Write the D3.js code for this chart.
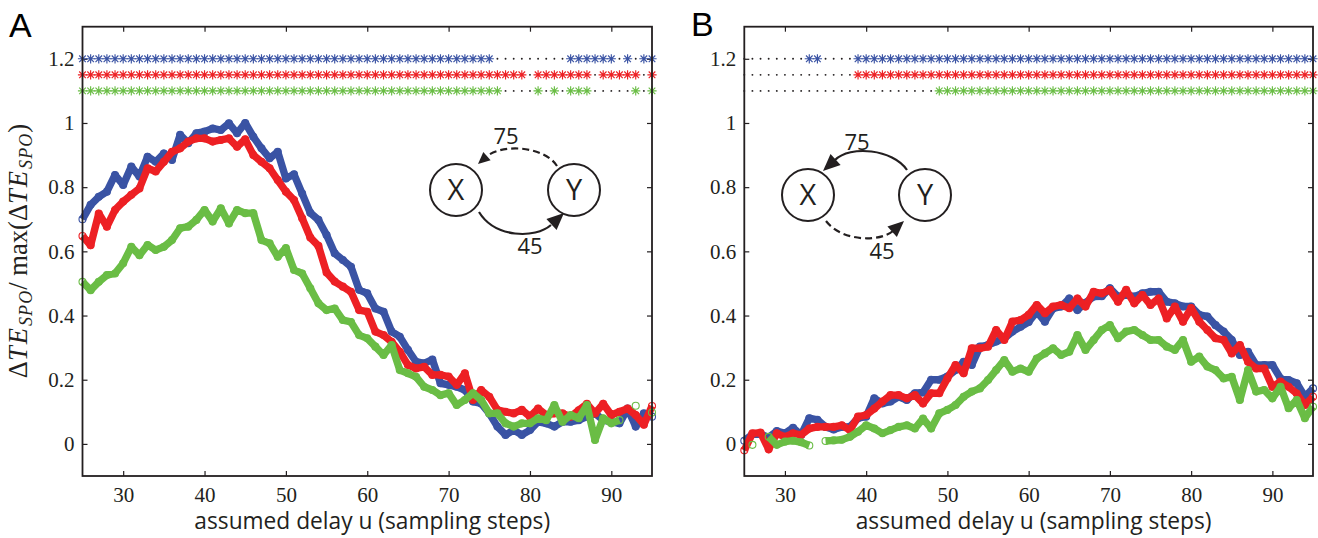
<!DOCTYPE html>
<html>
<head>
<meta charset="utf-8">
<script src="https://cdn.jsdelivr.net/npm/d3@7"></script>
<style>
  body { margin: 0; background: #fff; }
  svg { display: block; }
</style>
</head>
<body>
<svg id="fig" width="1318" height="538"></svg>
<script>
// Assumed delays u (sampling steps)
const delays = d3.range(25, 96);
const xTicks = [30, 40, 50, 60, 70, 80, 90];
const yTicks = [0, 0.2, 0.4, 0.6, 0.8, 1, 1.2];
const xTitle = "assumed delay u (sampling steps)";

// Panel A: normalised ΔTE_SPO, one value per delay 25..95 (null = not available)
const blueA = [0.70,0.745,0.77,0.786,0.838,0.807,0.864,0.833,0.895,0.879,0.905,0.885,0.963,0.937,0.968,0.973,0.983,0.978,0.999,0.968,
  1.0,0.957,0.921,0.89,0.91,0.827,0.84,0.78,0.72,0.698,0.651,0.594,0.573,0.552,0.48,0.469,0.422,0.412,0.35,0.334,
  0.293,0.256,0.251,0.263,0.189,0.184,0.178,0.168,0.132,0.126,0.095,0.054,0.028,0.043,0.028,0.043,0.069,0.064,0.054,0.069,
  0.069,0.074,0.085,0.095,0.074,0.069,0.064,0.11,0.054,0.095,0.085];
const redA = [0.648,0.619,0.718,0.677,0.729,0.755,0.776,0.796,0.859,0.849,0.879,0.91,0.921,0.942,0.952,0.952,0.942,0.947,0.952,0.926,
  0.949,0.90,0.879,0.859,0.822,0.786,0.76,0.703,0.643,0.617,0.534,0.506,0.49,0.474,0.417,0.412,0.35,0.339,0.318,0.287,
  0.246,0.235,0.24,0.215,0.215,0.21,0.184,0.22,0.137,0.168,0.147,0.106,0.1,0.095,0.106,0.085,0.11,0.09,0.095,0.095,
  0.085,0.105,0.125,0.095,0.125,0.09,0.1,0.11,0.09,0.06,0.118];
const greenA = [0.505,0.479,0.505,0.526,0.531,0.563,0.614,0.588,0.62,0.604,0.614,0.635,0.672,0.677,0.698,0.729,0.693,0.734,0.687,0.729,
  0.719,0.719,0.635,0.625,0.583,0.61,0.542,0.531,0.485,0.438,0.417,0.422,0.386,0.38,0.339,0.329,0.303,0.277,0.308,0.23,
  0.22,0.209,0.178,0.168,0.152,0.158,0.121,0.137,0.158,0.137,0.095,0.095,0.064,0.054,0.064,0.064,0.08,0.074,0.121,0.069,
  0.09,0.08,0.121,0.012,0.08,0.064,0.074,null,0.119,null,0.098];

// Panel B
const blueB = [0.01,0.03,0.03,0.02,0.04,0.033,0.05,0.028,0.08,0.075,0.053,0.045,0.053,0.053,0.08,0.085,0.142,0.126,0.132,0.147,
  0.137,0.158,0.16,0.2,0.2,0.21,0.23,0.256,0.246,0.303,0.308,0.319,0.329,0.35,0.365,0.38,0.412,0.381,0.422,0.428,
  0.453,0.417,0.44,0.459,0.46,0.485,0.459,0.464,0.459,0.469,0.474,0.474,0.443,0.438,0.428,0.428,0.402,0.397,0.37,0.35,
  0.324,0.277,0.287,0.246,0.246,0.246,0.204,0.199,0.189,0.147,0.173];
const redB = [-0.02,0.033,0.035,-0.017,0.033,0.022,0.033,0.028,0.048,0.053,0.053,0.053,0.058,0.043,0.085,0.09,0.11,0.132,0.152,0.152,
  0.142,0.152,0.126,0.158,0.158,0.204,0.246,0.22,0.298,0.298,0.303,0.355,0.324,0.381,0.386,0.402,0.433,0.407,0.428,0.433,
  0.423,0.453,0.428,0.474,0.469,0.48,0.443,0.48,0.438,0.464,0.433,0.453,0.391,0.428,0.381,0.423,0.381,0.355,0.329,0.324,
  0.282,0.308,0.256,0.235,0.235,0.178,0.194,0.178,0.157,0.121,0.147];
const greenB = [null,-0.003,null,0.022,-0.003,0.007,0.01,0.005,-0.005,null,0.009,0.011,0.013,0.022,0.038,0.058,0.048,0.033,0.043,0.053,
  0.058,0.048,0.079,0.048,0.095,0.106,0.121,0.147,0.163,0.173,0.199,0.23,0.261,0.225,0.235,0.225,0.266,0.282,0.298,0.277,
  0.287,0.339,0.293,0.324,0.355,0.37,0.329,0.35,0.355,0.339,0.324,0.324,0.303,0.293,0.324,0.256,0.272,0.241,0.23,0.204,
  0.209,0.137,0.23,0.163,0.168,0.142,0.178,0.111,0.137,0.08,0.116];

// Delays with a significant difference (inclusive ranges), shown as asterisks
const sigBlueA  = [[25,75],[85,90],[92,92],[94,95]];
const sigRedA   = [[25,79],[81,87],[89,93],[95,95]];
const sigGreenA = [[25,76],[81,81],[83,83],[85,87],[93,93],[95,95]];
const sigBlueB  = [[33,34],[39,95]];
const sigRedB   = [[39,95]];
const sigGreenB = [[49,95]];
const sigRowLevels = [1.2, 1.15, 1.1];

const colors = { blue: "#3a53a4", red: "#ed2024", green: "#6abd45" };
const ink = "#231f20";
const serif = "'Liberation Serif', 'Times New Roman', Times, serif";
const sans = "'Open Sans', 'Noto Sans', sans-serif";

const svg = d3.select("#fig");
const y = d3.scaleLinear().domain([-0.1, 1.3]).range([476, 26.7]);

function fitText(sel, target) {
  const node = sel.node();
  const fs = parseFloat(sel.style("font-size"));
  const len = node.getComputedTextLength();
  sel.style("font-size", (fs * target / len).toFixed(2) + "px");
}

function asteriskPath(r) {
  const d = r * 0.72;
  return `M${-r},0H${r}M0,${-r}V${r}M${-d},${-d}L${d},${d}M${-d},${d}L${d},${-d}`;
}

function drawPanel(opts) {
  const x = d3.scaleLinear().domain([25, 95]).range(opts.xRange);
  const g = svg.append("g");
  const [x0, x1] = opts.xRange;
  const [yb, yt] = y.range();

  // axes with inward ticks on all four sides
  const tick = 5;
  const styleAxis = a => {
    a.select(".domain").remove();
    a.selectAll("line").attr("stroke", ink).attr("stroke-width", 1.2);
    a.selectAll("text")
      .style("font-family", serif).style("font-size", "21px").style("fill", ink);
  };
  g.append("g").attr("transform", `translate(0,${yb})`)
    .call(d3.axisBottom(x).tickValues(xTicks).tickSize(-tick).tickSizeOuter(0).tickPadding(11).tickFormat(d3.format("d")))
    .call(styleAxis);
  g.append("g").attr("transform", `translate(0,${yt})`)
    .call(d3.axisTop(x).tickValues(xTicks).tickSize(-tick).tickSizeOuter(0).tickFormat(""))
    .call(styleAxis);
  g.append("g").attr("transform", `translate(${x0},0)`)
    .call(d3.axisLeft(y).tickValues(yTicks).tickSize(-tick).tickSizeOuter(0).tickPadding(8).tickFormat(d => String(d)))
    .call(styleAxis);
  g.append("g").attr("transform", `translate(${x1},0)`)
    .call(d3.axisRight(y).tickValues(yTicks).tickSize(-tick).tickSizeOuter(0).tickFormat(""))
    .call(styleAxis);

  // significance rows: asterisk where significant, dot otherwise
  const rows = opts.sig;
  const rowColors = [colors.blue, colors.red, colors.green];
  rows.forEach((ranges, i) => {
    const isSig = u => ranges.some(([a, b]) => u >= a && u <= b);
    const rg = g.append("g");
    delays.forEach(u => {
      if (isSig(u)) {
        rg.append("path")
          .attr("transform", `translate(${x(u)},${y(sigRowLevels[i])})`)
          .attr("d", asteriskPath(4.6))
          .attr("stroke", rowColors[i]).attr("stroke-width", 1.15).attr("fill", "none");
      } else {
        rg.append("circle").attr("cx", x(u)).attr("cy", y(sigRowLevels[i]))
          .attr("r", 0.95).attr("fill", ink);
      }
    });
  });

  // curves
  const line = d3.line()
    .defined(d => d[1] !== null)
    .x(d => x(d[0])).y(d => y(d[1]));
  opts.series.forEach(s => {
    const pts = delays.map((u, i) => [u, s.values[i]]);
    g.append("path").datum(pts)
      .attr("d", line)
      .attr("fill", "none").attr("stroke", s.color)
      .attr("stroke-width", 7.4).attr("stroke-linejoin", "round").attr("stroke-linecap", "butt");
    g.append("g").selectAll("circle")
      .data(pts.filter(d => d[1] !== null))
      .join("circle")
      .attr("cx", d => x(d[0])).attr("cy", d => y(d[1]))
      .attr("r", 3.5).attr("fill", "none")
      .attr("stroke", s.color).attr("stroke-width", 1.1);
  });

  // frame
  g.append("rect").attr("x", x0).attr("y", yt).attr("width", x1 - x0).attr("height", yb - yt)
    .attr("fill", "none").attr("stroke", ink).attr("stroke-width", 1.8);

  // x axis title
  const xt = g.append("text")
    .attr("x", (x0 + x1) / 2 + 5).attr("y", 529)
    .attr("text-anchor", "middle")
    .style("font-family", sans).style("font-size", "20px").style("fill", ink)
    .text(xTitle);
  fitText(xt, 356);

  // panel letter
  g.append("text").attr("x", opts.letterPos[0]).attr("y", opts.letterPos[1])
    .style("font-family", "'Liberation Sans', Arial, sans-serif")
    .style("font-size", "34px").style("fill", "#000")
    .text(opts.letter);

  return g;
}

drawPanel({
  xRange: [82.5, 652],
  sig: [sigBlueA, sigRedA, sigGreenA],
  series: [
    { values: blueA, color: colors.blue },
    { values: redA, color: colors.red },
    { values: greenA, color: colors.green }
  ],
  letter: "A", letterPos: [9, 37]
});
drawPanel({
  xRange: [744.3, 1313],
  sig: [sigBlueB, sigRedB, sigGreenB],
  series: [
    { values: blueB, color: colors.blue },
    { values: redB, color: colors.red },
    { values: greenB, color: colors.green }
  ],
  letter: "B", letterPos: [691, 36]
});

// y axis title (math style)
const yl = svg.append("text")
  .attr("transform", "translate(27,251) rotate(-90)")
  .attr("text-anchor", "middle")
  .style("font-family", serif).style("font-size", "21px").style("fill", ink);
function appendTE(t) {
  t.append("tspan").text("Δ");
  t.append("tspan").attr("font-style", "italic").attr("letter-spacing", 2).text("TE");
  t.append("tspan").attr("font-style", "italic").attr("font-size", "0.68em").attr("dy", 5).attr("letter-spacing", 1).text("SPO");
}
appendTE(yl);
yl.append("tspan").attr("dy", -5).text("/ max(");
appendTE(yl);
yl.append("tspan").attr("dy", -5).text(")");
fitText(yl, 258);

// causal diagrams
function arrowHead(parent, tip, dir, len, halfW) {
  const n = Math.hypot(dir[0], dir[1]);
  const ux = dir[0] / n, uy = dir[1] / n;
  const bx = tip[0] - ux * len, by = tip[1] - uy * len;
  const px = -uy, py = ux;
  parent.append("path")
    .attr("d", `M${tip[0]},${tip[1]}L${bx + px * halfW},${by + py * halfW}L${bx - px * halfW},${by - py * halfW}Z`)
    .attr("fill", ink);
}
function node(parent, cx, cy, label) {
  parent.append("circle").attr("cx", cx).attr("cy", cy).attr("r", 26)
    .attr("fill", "#fff").attr("stroke", ink).attr("stroke-width", 2);
  parent.append("text").attr("x", cx).attr("y", cy + 10)
    .attr("text-anchor", "middle")
    .style("font-family", sans).style("font-size", "29px").style("fill", ink)
    .text(label);
}
function numLabel(parent, x, yy, s) {
  parent.append("text").attr("x", x).attr("y", yy + 8)
    .attr("text-anchor", "middle")
    .style("font-family", sans).style("font-size", "22px").style("fill", ink)
    .text(s);
}

// Panel A: X -> Y at 45 (solid), Y -> X at 75 (dashed)
const dA = svg.append("g");
node(dA, 456, 190, "X");
node(dA, 574, 190, "Y");
dA.append("path").attr("d", "M479,212C495,238 535,239 551,225")
  .attr("fill", "none").attr("stroke", ink).attr("stroke-width", 2.2);
arrowHead(dA, [564, 213], [13, -12], 17, 7.5);
dA.append("path").attr("d", "M557,166C545,147 505,143 487,156")
  .attr("fill", "none").attr("stroke", ink).attr("stroke-width", 2.2).attr("stroke-dasharray", "7,4");
arrowHead(dA, [478, 164], [-9, 8], 12, 5.5);
numLabel(dA, 506, 136, "75");
numLabel(dA, 530, 246, "45");

// Panel B: Y -> X at 75 (solid), X -> Y at 45 (dashed)
const dB = svg.append("g");
node(dB, 808, 195, "X");
node(dB, 925, 195, "Y");
dB.append("path").attr("d", "M907,170C893,149 850,145 835,160")
  .attr("fill", "none").attr("stroke", ink).attr("stroke-width", 2.2);
arrowHead(dB, [823, 171], [-11, 10], 17, 7.5);
dB.append("path").attr("d", "M826,221C842,242 880,242 893,231")
  .attr("fill", "none").attr("stroke", ink).attr("stroke-width", 2.2).attr("stroke-dasharray", "7,4");
arrowHead(dB, [904, 221], [11, -10], 16, 7);
numLabel(dB, 857, 142, "75");
numLabel(dB, 882, 251, "45");
</script>
</body>
</html>
